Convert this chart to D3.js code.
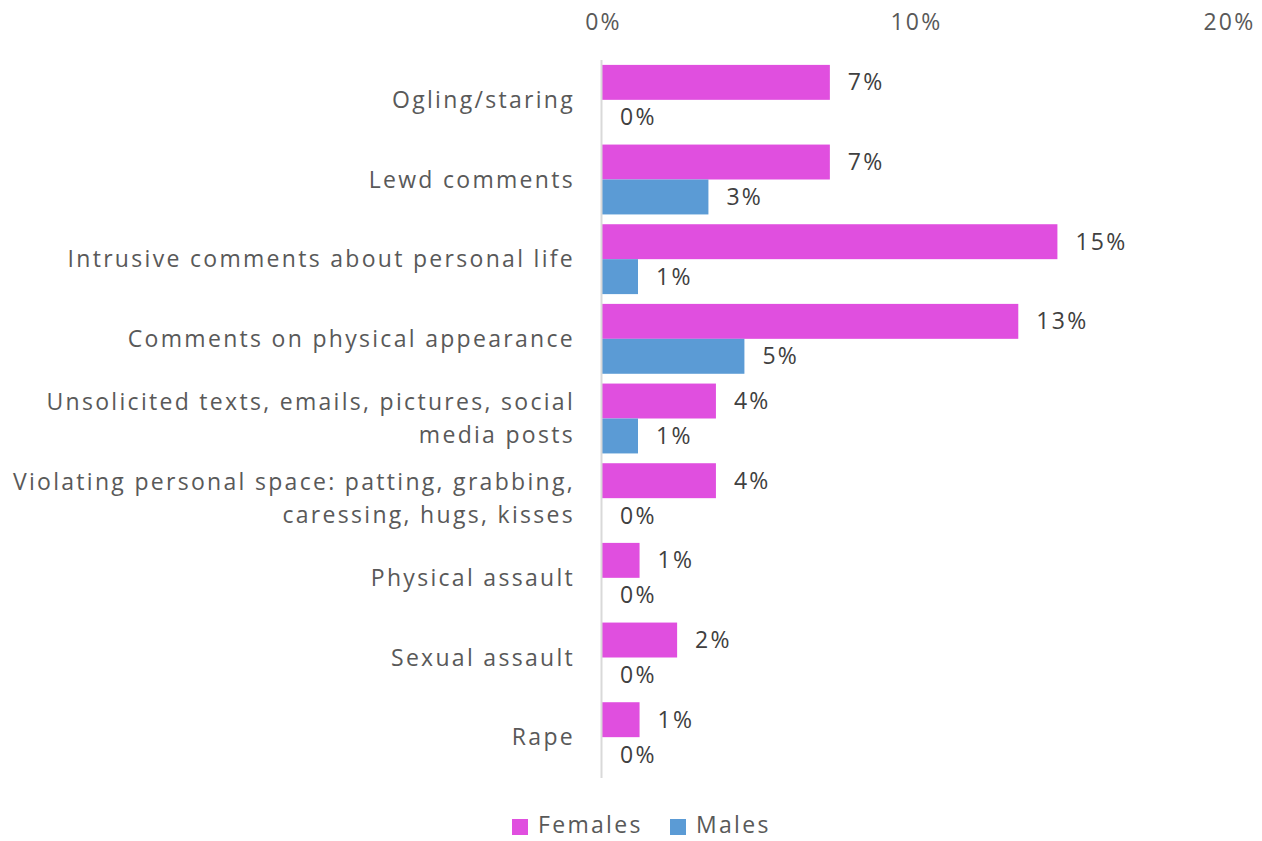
<!DOCTYPE html>
<html>
<head>
<meta charset="utf-8">
<script src="https://cdn.jsdelivr.net/npm/d3@7"></script>
<style>
  body { margin: 0; background: #fff; }
  text { font-family: "Open Sans", sans-serif; letter-spacing: 2.3px; }
</style>
</head>
<body>
<div id="chart"></div>
<script>
// categories, top to bottom (lines split for wrapping)
const categories = [
  ["Ogling/staring"],
  ["Lewd comments"],
  ["Intrusive comments about personal life"],
  ["Comments on physical appearance"],
  ["Unsolicited texts, emails, pictures, social", "media posts"],
  ["Violating personal space: patting, grabbing,", "caressing, hugs, kisses"],
  ["Physical assault"],
  ["Sexual assault"],
  ["Rape"]
];
const series = ["Females", "Males"];
const females = [0.0728, 0.0728, 0.1455, 0.133, 0.0364, 0.0364, 0.012, 0.024, 0.012];
const males   = [0, 0.034, 0.0115, 0.0455, 0.0115, 0, 0, 0, 0];
const ticks = [0, 0.1, 0.2];
const colors = { Females: "#e04fdf", Males: "#5b9bd5" };

const W = 1262, H = 841;
const svg = d3.select("#chart").append("svg")
  .attr("width", W).attr("height", H);

const x = d3.scaleLinear().domain([0, 0.2]).range([602, 1228]);
const y0 = d3.scaleBand().domain(d3.range(categories.length)).range([60, 777]).padding(0);
const y1 = d3.scaleBand().domain(series).range([0, y0.bandwidth()]).paddingInner(0).paddingOuter(0.14);

const fmt = d3.format(".0%");
const fs = "23px";

// top axis labels
svg.append("g")
  .attr("transform", "translate(1,22)")
  .call(d3.axisTop(x).tickValues(ticks).tickFormat(fmt).tickSize(0))
  .call(g => g.select(".domain").remove())
  .selectAll("text")
  .attr("dy", "0.35em")
  .attr("y", 0)
  .style("font-size", fs)
  .style("font-family", "'Open Sans', sans-serif")
  .attr("fill", "#595959");

const rows = categories.map((c, i) => ({ i, lines: c, Females: females[i], Males: males[i] }));

const groups = svg.selectAll(".row").data(rows).enter().append("g")
  .attr("class", "row")
  .attr("transform", d => "translate(0," + y0(d.i) + ")");

series.forEach(s => {
  groups.append("rect")
    .attr("x", x(0))
    .attr("y", y1(s))
    .attr("width", d => x(d[s]) - x(0))
    .attr("height", y1.bandwidth())
    .attr("fill", colors[s]);
  groups.append("text")
    .attr("x", d => x(d[s]) + 18)
    .attr("y", y1(s) + y1.bandwidth() / 2)
    .attr("dy", "0.35em")
    .attr("fill", "#404040")
    .style("font-size", fs)
    .text(d => fmt(d[s]));
});

// category labels
const lineH = 33;
groups.append("text")
  .attr("text-anchor", "end")
  .attr("fill", "#595959")
  .style("font-size", fs)
  .each(function (d) {
    const t = d3.select(this);
    const n = d.lines.length;
    d.lines.forEach((ln, k) => {
      t.append("tspan")
        .attr("x", 575)
        .attr("y", y0.bandwidth() / 2 + (k - (n - 1) / 2) * lineH)
        .attr("dy", "0.35em")
        .text(ln);
    });
  });

// vertical axis line
svg.append("line")
  .attr("x1", x(0) - 0.5).attr("x2", x(0) - 0.5)
  .attr("y1", 60).attr("y2", 778)
  .attr("stroke", "#d9d9d9").attr("stroke-width", 2);

// legend
const legend = svg.append("g").attr("transform", "translate(512,826)");
const legX = [0, 158];
series.forEach((s, k) => {
  const g = legend.append("g").attr("transform", "translate(" + legX[k] + ",0)");
  g.append("rect").attr("x", 0).attr("y", -7).attr("width", 16).attr("height", 16).attr("fill", colors[s]);
  g.append("text").attr("x", 26).attr("y", 0).attr("dy", "0.3em")
    .attr("fill", "#595959").style("font-size", fs).text(s);
});
</script>
</body>
</html>
